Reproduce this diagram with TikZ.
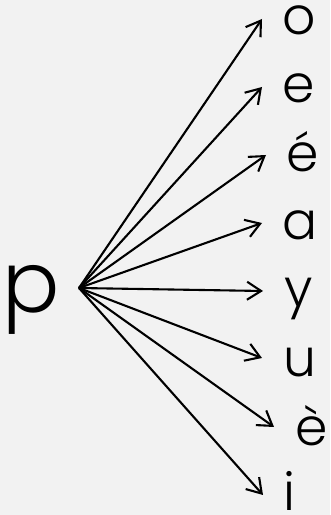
\documentclass[tikz,border=0pt]{standalone}
\usepackage{fontspec}
\setmainfont{Poppins Light}
\usetikzlibrary{arrows.meta}

\begin{document}
\begin{tikzpicture}[x=1pt,y=1pt]
\definecolor{paper}{HTML}{F2F2F2}
\tikzset{
  vowel/.style={anchor=base,inner sep=0pt,font=\fontsize{52}{52}\selectfont},
  branch/.style={line width=2.1pt,-{Straight Barb[length=14pt,width=18pt]}}
}
\fill[paper] (0,0) rectangle (330,515);
\useasboundingbox (0,0) rectangle (330,515);

\coordinate (Hub) at (79,227);
\node[anchor=base,inner sep=0pt,font=\fontsize{85}{85}\selectfont] (P) at (31,202) {p};

\coordinate (TipO) at (262,496);
\coordinate (TipE) at (262,428);
\coordinate (TipEacute) at (266,360);
\coordinate (TipA) at (262,292);
\coordinate (TipY) at (263,224);
\coordinate (TipU) at (262,157);
\coordinate (TipEgrave) at (274,88);
\coordinate (TipI) at (263,20);

\node[vowel] (O) at (299,480) {o};
\node[vowel] (E) at (299,412) {e};
\node[vowel] (Eacute) at (303,343) {é};
\node[vowel] (A) at (300,275) {a};
\node[vowel] (Y) at (299,208) {y};
\node[vowel] (U) at (300,138) {u};
\node[vowel] (Egrave) at (312,70) {è};
\node[vowel] (I) at (289,5) {i};

\draw[branch] (Hub) -- (TipO);
\draw[branch] (Hub) -- (TipE);
\draw[branch] (Hub) -- (TipEacute);
\draw[branch] (Hub) -- (TipA);
\draw[branch] (Hub) -- (TipY);
\draw[branch] (Hub) -- (TipU);
\draw[branch] (Hub) -- (TipEgrave);
\draw[branch] (Hub) -- (TipI);
\end{tikzpicture}
\end{document}
